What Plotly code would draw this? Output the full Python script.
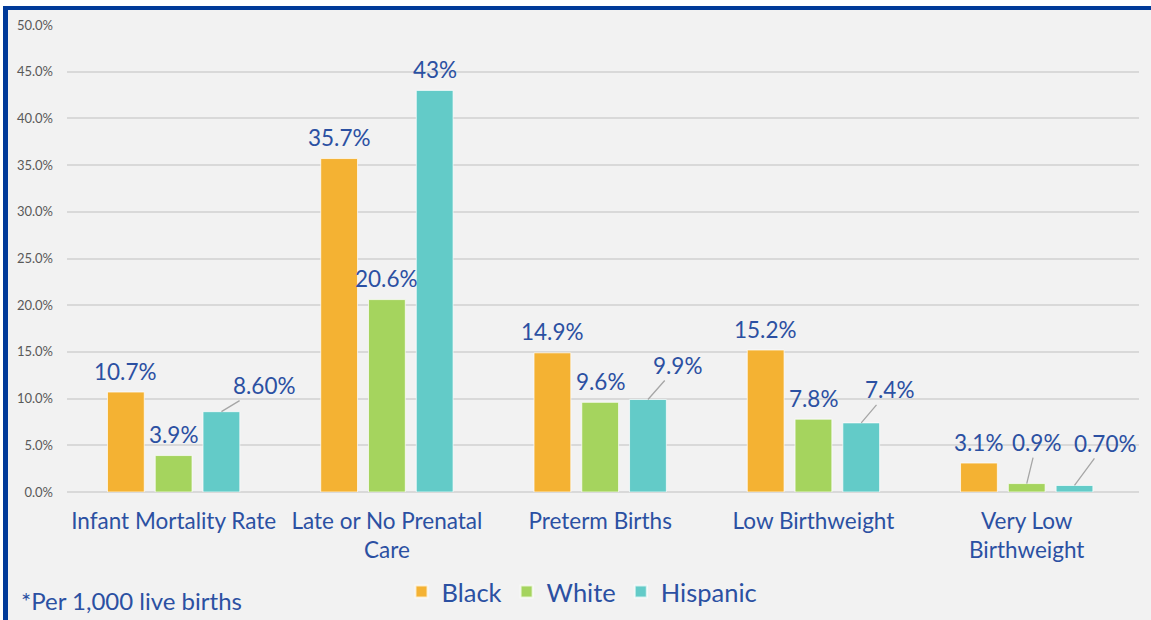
import plotly.graph_objects as go

categories = ["Infant Mortality Rate", "Late or No Prenatal<br>Care", "Preterm Births",
              "Low Birthweight", "Very Low<br>Birthweight"]
series_names = ["Black", "White", "Hispanic"]
black = [10.7, 35.7, 14.9, 15.2, 3.1]
white = [3.9, 20.6, 9.6, 7.8, 0.9]
hispanic = [8.6, 43.0, 9.9, 7.4, 0.7]
black_labels = ["10.7%", "35.7%", "14.9%", "15.2%", "3.1%"]
white_labels = ["3.9%", "20.6%", "9.6%", "7.8%", "0.9%"]
hispanic_labels = ["8.60%", "43%", "9.9%", "7.4%", "0.70%"]
footnote = "*Per 1,000 live births"

colors = ["#F4B233", "#A5D45E", "#63CBC8"]
label_color = "#2B50A2"
FONT = "Lato"
FS = 22.5

# leader-line offsets (pixels) for labels that sit away from their bars: (series, category) -> (ax, ay)
leaders = {(2, 0): (43, -26), (2, 2): (30, -34), (2, 3): (28, -33),
           (1, 4): (10, -41), (2, 4): (31, -42)}

W, H = 1151, 620
L, R, T, B = 67, 12, 25, 128

fig = go.Figure()
all_vals = [black, white, hispanic]
all_labels = [black_labels, white_labels, hispanic_labels]
for name, vals, col in zip(series_names, all_vals, colors):
    fig.add_trace(go.Bar(name=name, x=categories, y=vals, marker_color=col,
                         marker_line=dict(color="rgba(255,255,255,0.7)", width=1)))

bargap = 0.328
slot = (1 - bargap) / 3
for j, (vals, labs) in enumerate(zip(all_vals, all_labels)):
    for i, (v, t) in enumerate(zip(vals, labs)):
        xpos = i + (j - 1) * slot
        if (j, i) in leaders:
            ax, ay = leaders[(j, i)]
            fig.add_annotation(x=xpos, y=v, xref="x", yref="y", text=t, showarrow=True,
                               arrowhead=0, arrowwidth=1.3, arrowcolor="#a6a6a6", standoff=0,
                               ax=ax, ay=ay, font=dict(family=FONT, size=FS, color=label_color))
        else:
            fig.add_annotation(x=xpos, y=v, xref="x", yref="y", text=t, showarrow=False,
                               yanchor="middle", yshift=21,
                               font=dict(family=FONT, size=FS, color=label_color))


def px_x(p):
    return (p - L) / (W - L - R)


def px_y(p):
    return (H - B - p) / (H - T - B)


fig.add_annotation(x=px_x(19), y=px_y(600), xref="paper", yref="paper",
                   text=footnote, showarrow=False, xanchor="left", yanchor="middle",
                   font=dict(family=FONT, size=24, color=label_color))

# frame: white outer margin and blue border (top and left)
fig.add_shape(type="rect", xref="paper", yref="paper", x0=px_x(0), x1=px_x(W), y0=px_y(0), y1=px_y(6),
              fillcolor="white", line_width=0, layer="below")
fig.add_shape(type="rect", xref="paper", yref="paper", x0=px_x(0), x1=px_x(3), y0=px_y(0), y1=px_y(H),
              fillcolor="white", line_width=0, layer="below")
fig.add_shape(type="rect", xref="paper", yref="paper", x0=px_x(3), x1=px_x(W), y0=px_y(6), y1=px_y(10),
              fillcolor="#003A99", line_width=0, layer="below")
fig.add_shape(type="rect", xref="paper", yref="paper", x0=px_x(3), x1=px_x(8), y0=px_y(6), y1=px_y(H),
              fillcolor="#003A99", line_width=0, layer="below")

fig.update_layout(
    width=W, height=H,
    margin=dict(l=L, r=R, t=T, b=B, pad=0, autoexpand=False),
    paper_bgcolor="#F2F2F2", plot_bgcolor="#F2F2F2",
    barmode="group", bargap=bargap, bargroupgap=0.23,
    font=dict(family=FONT, color=label_color),
    legend=dict(orientation="h", x=px_x(582), xanchor="center", y=px_y(592), yanchor="middle",
                font=dict(family=FONT, size=25.5, color=label_color), bgcolor="rgba(0,0,0,0)",
                itemsizing="constant"),
    showlegend=True,
)
fig.update_yaxes(range=[0, 50], dtick=5, tickformat=".1f", ticksuffix="%",
                 gridcolor="#D9D9D9", gridwidth=2, zeroline=True, zerolinecolor="#D9D9D9",
                 zerolinewidth=2, showline=False,
                 tickfont=dict(family=FONT, size=13, color="#595959"), ticklabelstandoff=13)
fig.update_xaxes(showgrid=False, showline=False, ticks="outside", ticklen=9, tickcolor="rgba(0,0,0,0)",
                 tickfont=dict(family=FONT, size=FS, color=label_color), tickangle=0)

fig.write_html("out.html", config={"displayModeBar": False},
               post_script="document.body.style.margin='0';")
